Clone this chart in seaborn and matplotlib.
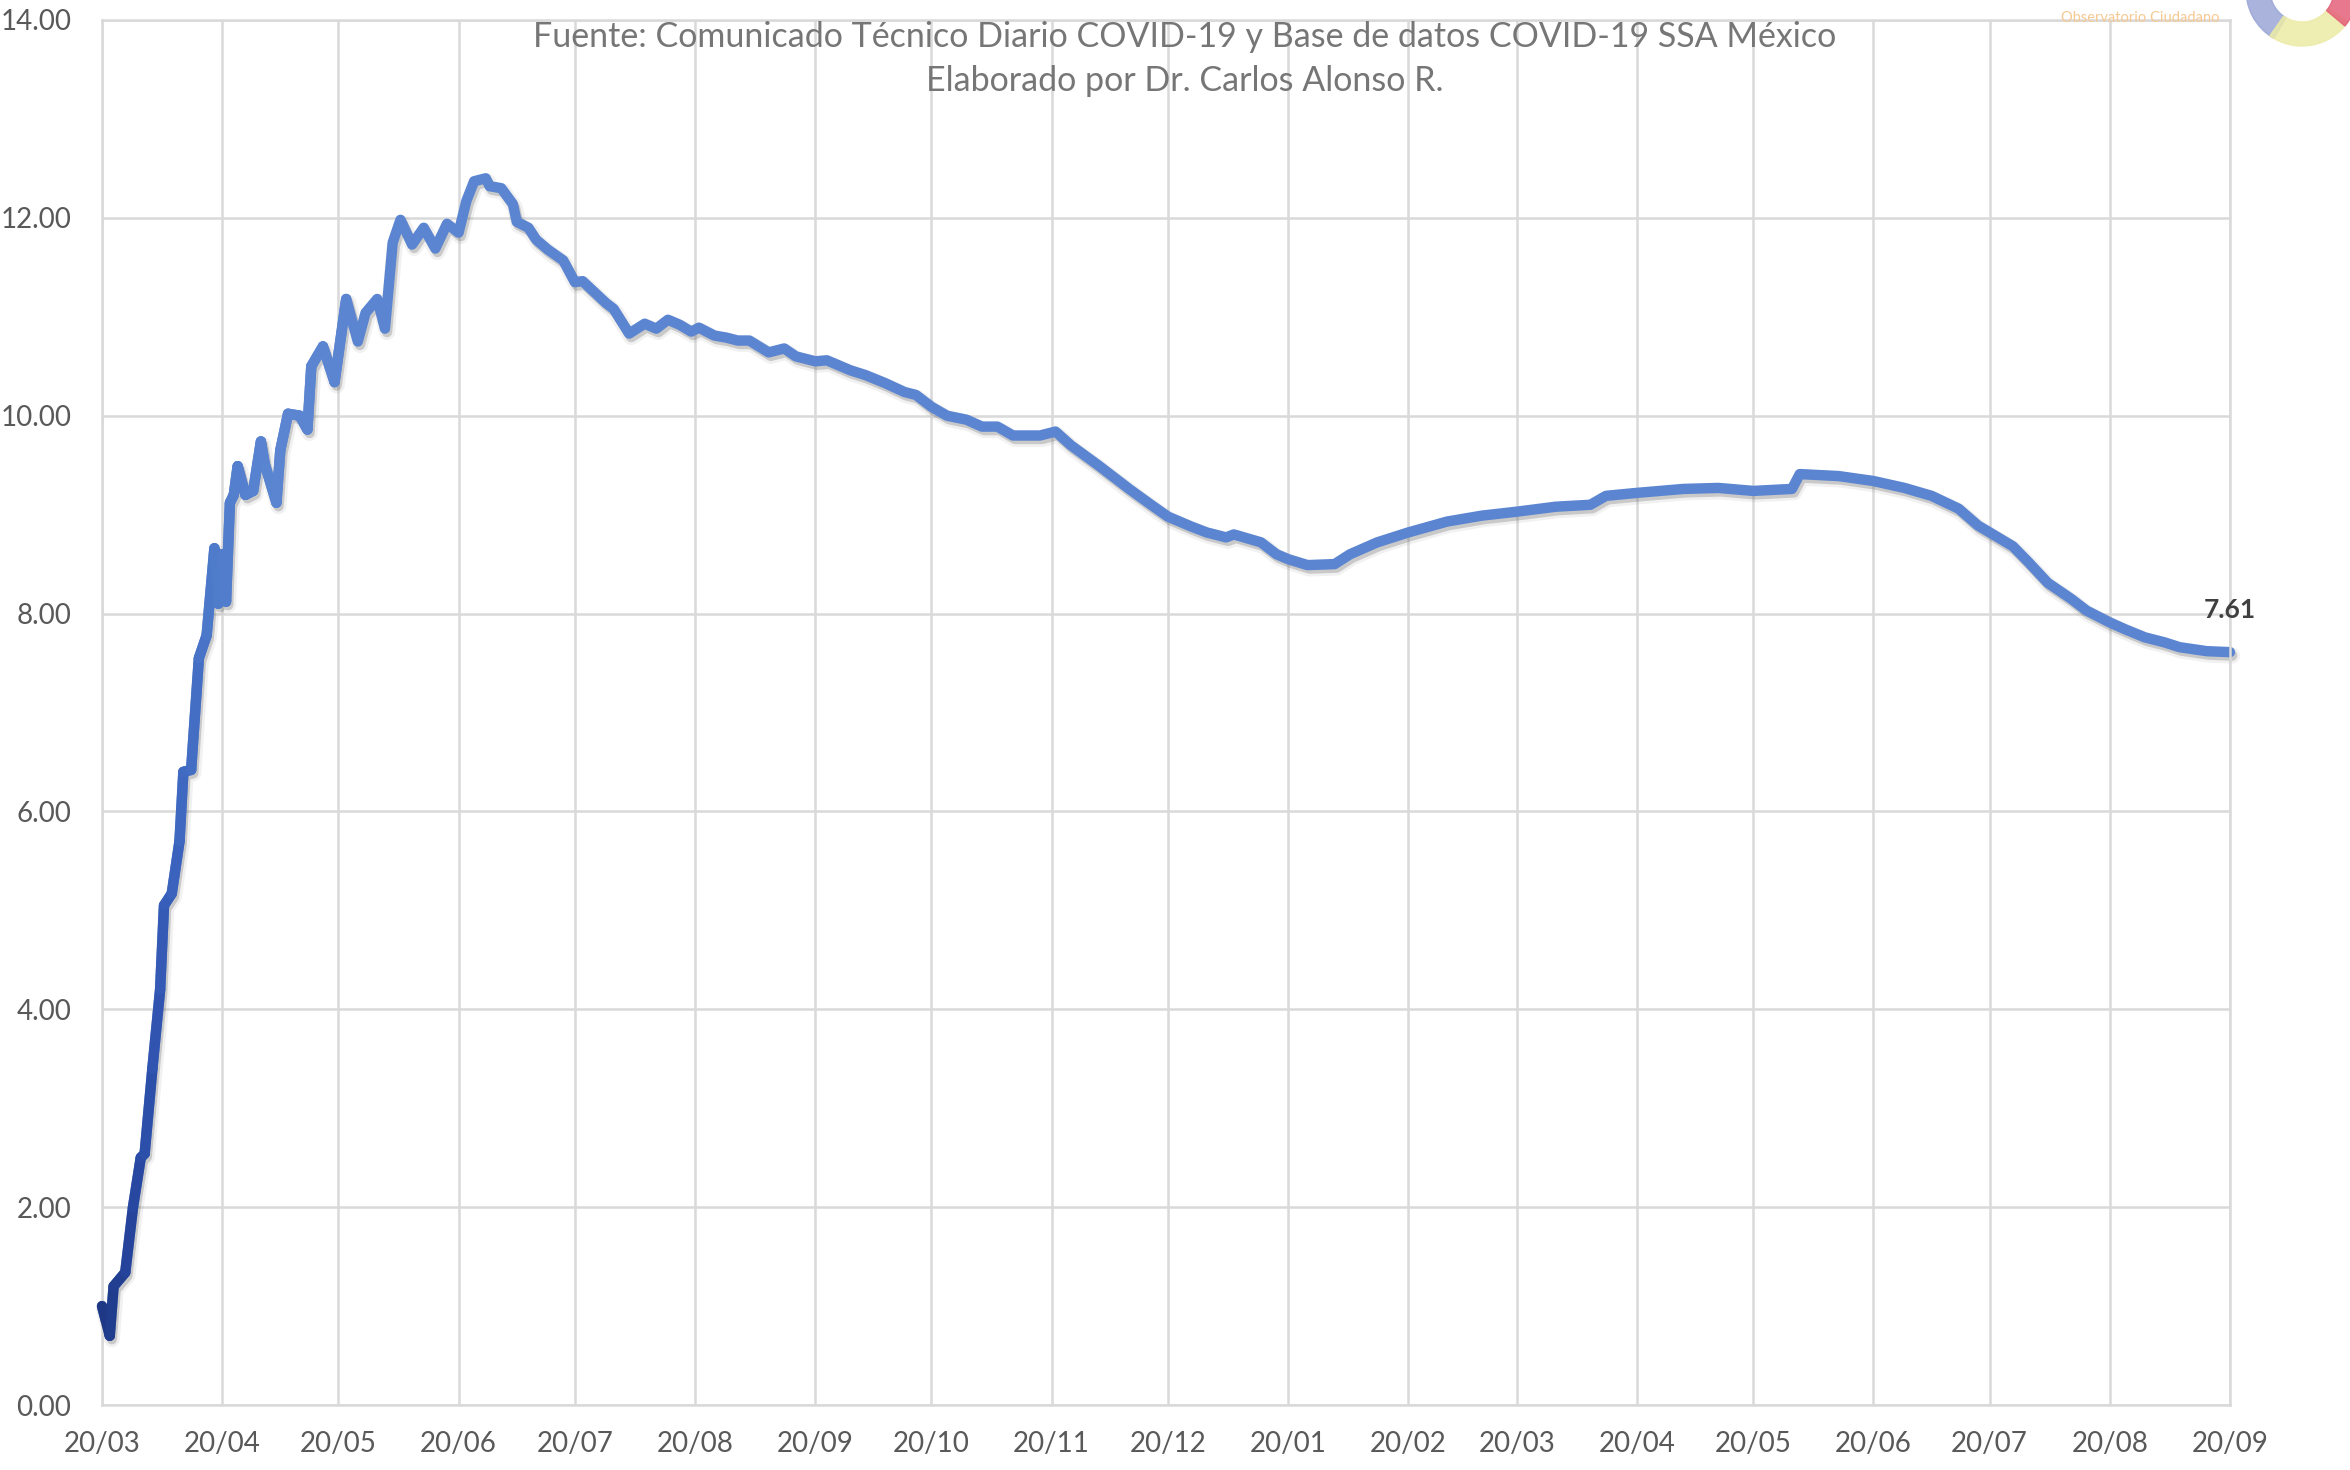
import numpy as np
import pandas as pd
import matplotlib
matplotlib.use("Agg")
import matplotlib.pyplot as plt
import matplotlib.dates as mdates
import matplotlib.patheffects as pe
from matplotlib.collections import LineCollection
from matplotlib.colors import LinearSegmentedColormap
from matplotlib.patches import Wedge
import seaborn as sns

# Fechas (dia 20 de cada mes en el eje) y valores
fechas = [
    "2020-03-20", "2020-03-22", "2020-03-23", "2020-03-26", "2020-03-28", "2020-03-30", "2020-03-31",
    "2020-04-02", "2020-04-04", "2020-04-05", "2020-04-07", "2020-04-09", "2020-04-10", "2020-04-12",
    "2020-04-14", "2020-04-16", "2020-04-18", "2020-04-19", "2020-04-20", "2020-04-21", "2020-04-22",
    "2020-04-23", "2020-04-24", "2020-04-26", "2020-04-28", "2020-04-30", "2020-05-01", "2020-05-04",
    "2020-05-05", "2020-05-07", "2020-05-10", "2020-05-12", "2020-05-13", "2020-05-16", "2020-05-19",
    "2020-05-22", "2020-05-25", "2020-05-27", "2020-05-30", "2020-06-01", "2020-06-03", "2020-06-05",
    "2020-06-08", "2020-06-11", "2020-06-14", "2020-06-17", "2020-06-20", "2020-06-22", "2020-06-24",
    "2020-06-27", "2020-06-28", "2020-07-01", "2020-07-04", "2020-07-05", "2020-07-08", "2020-07-10",
    "2020-07-13", "2020-07-17", "2020-07-20", "2020-07-22", "2020-07-25", "2020-07-28", "2020-07-30",
    "2020-08-03", "2020-08-07", "2020-08-10", "2020-08-13", "2020-08-16", "2020-08-19", "2020-08-21",
    "2020-08-25", "2020-08-28", "2020-08-31", "2020-09-03", "2020-09-08", "2020-09-12", "2020-09-15",
    "2020-09-20", "2020-09-23", "2020-09-29", "2020-10-03", "2020-10-08", "2020-10-13", "2020-10-16",
    "2020-10-20", "2020-10-24", "2020-10-29", "2020-11-02", "2020-11-06", "2020-11-10", "2020-11-17",
    "2020-11-21", "2020-11-25", "2020-12-02", "2020-12-10", "2020-12-16", "2020-12-20", "2020-12-26",
    "2020-12-30", "2021-01-04", "2021-01-06", "2021-01-13", "2021-01-17", "2021-01-20", "2021-01-25",
    "2021-02-01", "2021-02-05", "2021-02-12", "2021-02-20", "2021-03-02", "2021-03-11", "2021-03-20",
    "2021-03-30", "2021-04-08", "2021-04-12", "2021-04-20", "2021-05-02", "2021-05-11", "2021-05-20",
    "2021-05-30", "2021-06-01", "2021-06-11", "2021-06-20", "2021-06-28", "2021-07-05", "2021-07-12",
    "2021-07-17", "2021-07-20", "2021-07-26", "2021-07-30", "2021-08-04", "2021-08-10", "2021-08-14",
    "2021-08-20", "2021-08-24", "2021-08-29", "2021-09-03", "2021-09-07", "2021-09-14", "2021-09-20",
]
letalidad = [
    1.00, 0.70, 1.20, 1.34, 2.00, 2.50, 2.54,
    3.40, 4.20, 5.05, 5.17, 5.70, 6.40, 6.42,
    7.55, 7.78, 8.66, 8.10, 8.60, 8.12, 9.12,
    9.20, 9.49, 9.20, 9.24, 9.74, 9.51, 9.12,
    9.65, 10.02, 10.00, 9.86, 10.50, 10.70, 10.34,
    11.18, 10.75, 11.04, 11.18, 10.88, 11.75, 11.98,
    11.73, 11.90, 11.69, 11.94, 11.85, 12.17, 12.37,
    12.40, 12.32, 12.30, 12.14, 11.96, 11.90, 11.78,
    11.68, 11.57, 11.35, 11.36, 11.25, 11.14, 11.08,
    10.83, 10.93, 10.88, 10.97, 10.92, 10.85, 10.89,
    10.81, 10.79, 10.76, 10.76, 10.64, 10.68, 10.60,
    10.55, 10.56, 10.46, 10.41, 10.33, 10.24, 10.21,
    10.09, 10.00, 9.96, 9.89, 9.89, 9.80, 9.80,
    9.84, 9.70, 9.50, 9.26, 9.09, 8.98, 8.88,
    8.82, 8.77, 8.80, 8.72, 8.60, 8.55, 8.49,
    8.50, 8.60, 8.72, 8.82, 8.93, 8.99, 9.03,
    9.08, 9.10, 9.19, 9.22, 9.26, 9.27, 9.24,
    9.26, 9.41, 9.39, 9.34, 9.27, 9.19, 9.06,
    8.89, 8.82, 8.68, 8.52, 8.31, 8.15, 8.03,
    7.91, 7.84, 7.76, 7.71, 7.66, 7.62, 7.61,
]

subtitulo = ("Fuente: Comunicado Técnico Diario COVID-19 y Base de datos COVID-19 SSA México\n"
             "Elaborado por Dr. Carlos Alonso R.")

df = pd.DataFrame({"fecha": pd.to_datetime(fechas), "letalidad": letalidad})

sns.set_theme(style="whitegrid")
plt.rcParams["font.family"] = ["Lato", "DejaVu Sans"]

fig = plt.figure(figsize=(23.5, 14.7), dpi=100)
ax = fig.add_axes([102 / 2350, 65 / 1470, 2128 / 2350, 1385 / 1470])

azul = "#5B85D1"
grosor = 7.5
sombra = [pe.Stroke(linewidth=grosor + 4, foreground="#777777", alpha=0.10, offset=(1.5, -2.5)),
          pe.SimpleLineShadow(offset=(1.5, -2.5), shadow_color="#555555", alpha=0.25),
          pe.Normal()]

sns.lineplot(data=df, x="fecha", y="letalidad", color=azul, linewidth=grosor, ax=ax, clip_on=False)
linea = ax.lines[-1]
linea.set_solid_joinstyle("round")
linea.set_solid_capstyle("round")
linea.set_path_effects(sombra)

# tramo inicial con degradado de azul oscuro a azul claro
n_ini = 36
xs = mdates.date2num(df["fecha"].iloc[:n_ini])
ys = df["letalidad"].iloc[:n_ini].to_numpy()
segs = np.stack([np.column_stack([xs[:-1], ys[:-1]]), np.column_stack([xs[1:], ys[1:]])], axis=1)
cmap = LinearSegmentedColormap.from_list(
    "grad", [(0, "#1E3886"), (0.14, "#2849A4"), (0.28, "#3A62BE"), (0.45, "#4F7BCB"),
             (0.7, azul), (1, azul)])
t = (xs[:-1] - xs[0]) / (xs[-1] - xs[0])
lc = LineCollection(segs, colors=cmap(t), linewidths=grosor, capstyle="round", joinstyle="round",
                    clip_on=False, zorder=3)
ax.add_collection(lc)

ax.set_xlim(pd.Timestamp("2020-03-20"), pd.Timestamp("2021-09-20"))
ax.set_ylim(0, 14)
ax.set_yticks(np.arange(0, 14.1, 2))
ax.yaxis.set_major_formatter(plt.FormatStrFormatter("%.2f"))
ax.xaxis.set_major_locator(mdates.MonthLocator(bymonthday=20))
ax.xaxis.set_major_formatter(mdates.DateFormatter("%d/%m"))
ax.set_xlabel("")
ax.set_ylabel("")

ax.grid(True, color="#d9d9d9", linewidth=1.8)
for s in ax.spines.values():
    s.set_color("#d9d9d9")
    s.set_linewidth(1.8)
ax.tick_params(axis="both", length=0, labelsize=20, colors="#595959")
ax.tick_params(axis="x", pad=19)
ax.tick_params(axis="y", pad=22)

# etiqueta del ultimo valor
ax.annotate(f"{letalidad[-1]:.2f}", (df["fecha"].iloc[-1], letalidad[-1]), xytext=(0, 30),
            textcoords="offset points", ha="center", va="center", fontsize=19,
            fontweight="bold", color="#404040", annotation_clip=False)

fig.text(0.504, 1 - 59 / 1470, subtitulo, ha="center", va="center", fontsize=24.5,
         color="#767676", linespacing=1.45)

# logotipo recortado en la esquina
fig.text(2140 / 2350, 1 - 18 / 1470, "Observatorio Ciudadano", ha="center", va="center",
         fontsize=10.5, color="#F6C992")
lax = fig.add_axes([2180 / 2350, 1 - 90 / 1470, 170 / 2350, 90 / 1470])
lax.set_xlim(0, 170)
lax.set_ylim(0, 90)
lax.axis("off")
for a0, a1, c in [(175, 240, "#9AA6D6"), (235, 325, "#ECEBA6"), (320, 375, "#E5607A")]:
    lax.add_patch(Wedge((122, 100), 56, a0, a1, width=24, color=c, alpha=0.85))

fig.savefig("out.png", dpi=100)
